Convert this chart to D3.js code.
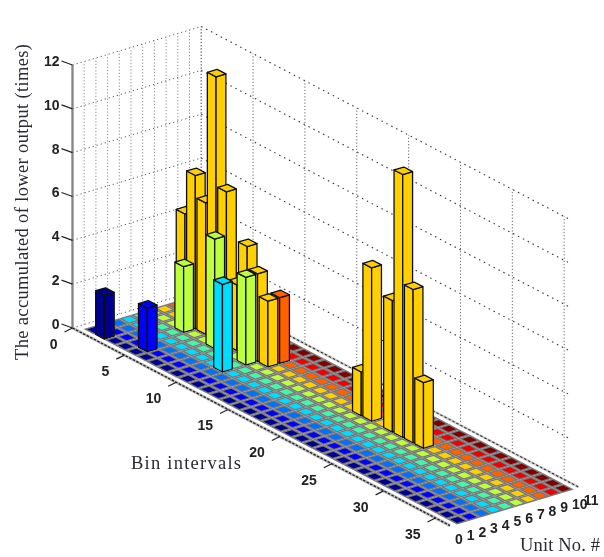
<!DOCTYPE html>
<html>
<head>
<meta charset="utf-8">
<script src="https://cdn.jsdelivr.net/npm/d3@7"></script>
<style>
body { margin: 0; background: #fff; }
</style>
</head>
<body>
<svg id="chart" width="604" height="557"></svg>
<script>
// chart values
var bins = d3.range(1, 37);
var units = [1, 2, 3, 4, 5, 6, 7, 8, 9, 10];
var unitColors = ['#000090', '#0000ff', '#0070ff', '#00dcff', '#45f5a8', '#bdff3c', '#ffd000', '#ff6000', '#f00000', '#800000'];

// the only cells that are not zero
var hitBins =   [2, 5, 4, 7, 10, 10, 3, 4, 5, 6, 7, 8, 9, 10, 11, 11, 20, 21, 23, 24, 25, 26];
var hitUnits =  [1, 2, 6, 6, 4, 6, 7, 7, 7, 7, 7, 7, 7, 7, 7, 8, 7, 7, 7, 7, 7, 7];
var hitCounts = [2, 2, 3, 5, 4, 4, 5, 7, 6, 12, 7, 3, 5, 4, 3, 3, 2, 7, 6, 12, 7, 3];

var zTicks = [0, 2, 4, 6, 8, 10, 12];
var binTicks = [0, 5, 10, 15, 20, 25, 30, 35];
var unitTicks = [0, 1, 2, 3, 4, 5, 6, 7, 8, 9, 10, 11];
var binMax = 36.4, unitMax = 11, zMax = 12, wallEnd = 35.7;

// oblique view of the box, one scale per screen direction
var binX = d3.scaleLinear([0, binMax], [0, 377.5]),
    binY = d3.scaleLinear([0, binMax], [0, 197.6]),
    unitX = d3.scaleLinear([0, unitMax], [0, 128.7]),
    unitY = d3.scaleLinear([0, unitMax], [0, -38.5]),
    zY = d3.scaleLinear([0, zMax], [0, -263]);
var originX = 72.5, originY = 328, barHalf = 0.42, tileHalf = 0.33;

function project(b, u, z) {
    return [originX + binX(b) + unitX(u), originY + binY(b) + unitY(u) + zY(z)];
}

var svg = d3.select('#chart');
svg.append('defs').append('filter')
    .attr('id', 'soft')
    .attr('filterUnits', 'userSpaceOnUse')
    .attr('x', 0).attr('y', 0)
    .attr('width', 604).attr('height', 557)
    .append('feGaussianBlur').attr('stdDeviation', 0.5);

var chart = svg.append('g').attr('filter', 'url(#soft)');
var line = d3.line();

function addLine(parent, a, b, color, width, dash) {
    parent.append('path')
        .attr('d', line([a, b]))
        .attr('fill', 'none')
        .attr('stroke', color)
        .attr('stroke-width', width)
        .attr('stroke-dasharray', dash || null);
}

// dotted grid on the two walls
var grid = chart.append('g');
zTicks.forEach(function(z) {
    addLine(grid, project(0, 0, z), project(0, unitMax, z), '#555', 1, '1.2 3');
    addLine(grid, project(0, unitMax, z), project(wallEnd, unitMax, z), '#333', 1.1, '1.5 4');
});
unitTicks.forEach(function(u) {
    addLine(grid, project(0, u, 0), project(0, u, zMax), '#888', 1, '1.2 2');
});
binTicks.forEach(function(b) {
    addLine(grid, project(b, unitMax, 0), project(b, unitMax, zMax), '#666', 1, '1.2 2');
});

// axis lines
var axes = chart.append('g');
addLine(axes, project(0, 0, 0), project(0, 0, zMax), '#888', 2.4);
addLine(axes, project(0, 0, 0), project(binMax, 0, 0), '#bbb', 3);
addLine(axes, project(0, 0, 0), project(binMax, 0, 0), '#222', 1.3, '2.5 1.5');
addLine(axes, project(0, unitMax, 0), project(binMax, unitMax, 0), '#ccc', 2.5);
addLine(axes, project(0, unitMax, 0), project(binMax, unitMax, 0), '#333', 1.1, '2.5 2');

zTicks.forEach(function(z) {
    var p = project(0, 0, z);
    addLine(axes, p, [p[0] - 11, p[1] - 4], '#222', 1.2);
});
binTicks.forEach(function(b) {
    var p = project(b, 0, 0);
    addLine(axes, p, [p[0] - 8, p[1] + 4], '#222', 1.2);
});

// every cell of the matrix, zero cells are flat tiles
var cells = [];
bins.forEach(function(b) {
    units.forEach(function(u) {
        cells.push({ bin: b, unit: u, count: 0 });
    });
});
hitBins.forEach(function(b, i) {
    cells.find(function(c) {
        return c.bin === b && c.unit === hitUnits[i];
    }).count = hitCounts[i];
});
// paint from the back of the box to the front
cells.sort(function(a, b) {
    return project(a.bin, a.unit, 0)[1] - project(b.bin, b.unit, 0)[1];
});

function poly(points) {
    return line(points) + 'Z';
}

// flat square around a cell centre at height z
function square(b, u, z, w) {
    return poly([project(b - w, u - w, z), project(b + w, u - w, z), project(b + w, u + w, z), project(b - w, u + w, z)]);
}

var bars = chart.append('g')
    .selectAll('g')
    .data(cells)
    .join('g')
    .attr('stroke-linejoin', 'round')
    .attr('fill', function(d) { return unitColors[d.unit - 1]; });

var flat = bars.filter(function(d) { return d.count === 0; });
var tall = bars.filter(function(d) { return d.count > 0; })
    .attr('stroke', '#111')
    .attr('stroke-width', 1.3);

// zero cells: grey lattice with a smaller coloured tile on it
flat.append('path')
    .attr('d', function(d) { return square(d.bin, d.unit, 0, 0.5); })
    .attr('fill', '#777');
flat.append('path')
    .attr('d', function(d) { return square(d.bin, d.unit, 0, tileHalf); });

// two visible sides
tall.append('path')
    .attr('d', function(d) {
        var b = d.bin, u = d.unit, w = barHalf;
        return poly([project(b - w, u - w, 0), project(b + w, u - w, 0), project(b + w, u - w, d.count), project(b - w, u - w, d.count)]);
    });
tall.append('path')
    .attr('d', function(d) {
        var b = d.bin, u = d.unit, w = barHalf;
        return poly([project(b + w, u - w, 0), project(b + w, u + w, 0), project(b + w, u + w, d.count), project(b + w, u - w, d.count)]);
    });
// top of the bar
tall.append('path')
    .attr('d', function(d) { return square(d.bin, d.unit, d.count, barHalf); });

// tick labels
var tickFont = '"Liberation Sans", Arial, sans-serif';
var labels = chart.append('g')
    .attr('font-family', tickFont)
    .attr('font-size', '14px')
    .attr('font-weight', 'bold')
    .attr('fill', '#222');

labels.selectAll('.zLabel')
    .data(zTicks)
    .join('text')
    .attr('class', 'zLabel')
    .attr('text-anchor', 'end')
    .attr('dy', '0.35em')
    .attr('x', function(d) { return project(0, 0, d)[0] - 13; })
    .attr('y', function(d) { return project(0, 0, d)[1] - 4; })
    .text(function(d) { return d; });

labels.selectAll('.binLabel')
    .data(binTicks)
    .join('text')
    .attr('class', 'binLabel')
    .attr('text-anchor', 'end')
    .attr('dy', '0.35em')
    .attr('x', function(d) { return project(d, 0, 0)[0] - 15; })
    .attr('y', function(d) { return project(d, 0, 0)[1] + 16; })
    .text(function(d) { return d; });

labels.selectAll('.unitLabel')
    .data(unitTicks)
    .join('text')
    .attr('class', 'unitLabel')
    .attr('dy', '0.35em')
    .attr('x', function(d) { return project(binMax, d, 0)[0] + 5; })
    .attr('y', function(d) { return project(binMax, d, 0)[1] + 13; })
    .text(function(d) { return d; });

// axis titles
var titles = chart.append('g')
    .attr('font-family', '"Liberation Serif", "Times New Roman", serif')
    .attr('font-size', '18.5px')
    .attr('fill', '#2a2a33');

titles.append('text')
    .attr('transform', 'translate(28,360) rotate(-90)')
    .attr('textLength', 316)
    .text('The accumulated of lower output (times)');
titles.append('text')
    .attr('x', 131).attr('y', 469)
    .attr('textLength', 110)
    .text('Bin intervals');
titles.append('text')
    .attr('x', 520).attr('y', 551)
    .attr('textLength', 80)
    .text('Unit No. #');
</script>
</body>
</html>
